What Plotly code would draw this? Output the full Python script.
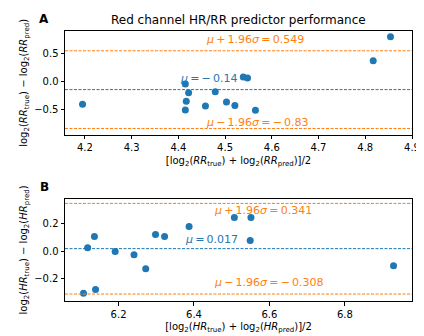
import plotly.graph_objects as go
from plotly.subplots import make_subplots

# RR panel (A)
rr_mean_axis = [4.195, 4.415, 4.422, 4.417, 4.415, 4.458, 4.479, 4.503, 4.521, 4.539, 4.548, 4.565, 4.817, 4.854]
rr_diff = [-0.40, -0.04, -0.196, -0.345, -0.50, -0.43, -0.18, -0.36, -0.42, 0.083, 0.066, -0.506, 0.37, 0.80]
rr_mu, rr_upper, rr_lower = -0.14, 0.549, -0.83

# HR panel (B)
hr_mean_axis = [6.107, 6.118, 6.136, 6.139, 6.191, 6.241, 6.272, 6.298, 6.322, 6.387, 6.507, 6.551, 6.549, 6.929]
hr_diff = [-0.303, 0.024, 0.104, -0.276, -0.004, -0.026, -0.127, 0.118, 0.104, 0.176, 0.24, 0.24, 0.075, -0.106]
hr_mu, hr_upper, hr_lower = 0.017, 0.341, -0.308

blue = '#1f77b4'
orange = '#ff7f0e'
font = 'DejaVu Sans'
sp = '\u2009'  # thin space, like mathtext spacing

fig = make_subplots(rows=2, cols=1, vertical_spacing=0.24)

fig.add_trace(go.Scatter(x=rr_mean_axis, y=rr_diff, mode='markers',
                         marker=dict(color=blue, size=7)), row=1, col=1)
fig.add_trace(go.Scatter(x=hr_mean_axis, y=hr_diff, mode='markers',
                         marker=dict(color=blue, size=7)), row=2, col=1)

# reference lines
for ax, val, col in [('y', rr_mu, blue), ('y', rr_upper, orange), ('y', rr_lower, orange),
                     ('y2', hr_mu, blue), ('y2', hr_upper, orange), ('y2', hr_lower, orange)]:
    xr = 'x domain' if ax == 'y' else 'x2 domain'
    fig.add_shape(type='line', xref=xr, yref=ax, x0=0, x1=1, y0=val, y1=val,
                  line=dict(color=col, width=1, dash='3px,1.5px'))

def note(text, x, y, col, xr, yr):
    fig.add_annotation(text=text, x=x, y=y, xref=xr, yref=yr, showarrow=False,
                       xanchor='left', yanchor='middle', font=dict(color=col, size=11, family=font))

def upper_txt(v):
    return f'<i>μ</i>{sp}+{sp}1.96<i>σ</i>{sp}={sp}{v}'

def lower_txt(v):
    return f'<i>μ</i>{sp}−{sp}1.96<i>σ</i>{sp}={sp}−{sp}{v}'

note(upper_txt('%.3f' % rr_upper), 4.455, 0.755, orange, 'x', 'y')
note(f'<i>μ</i>{sp}={sp}−{sp}%.2f' % abs(rr_mu), 4.40, 0.054, blue, 'x', 'y')
note(lower_txt('%.2f' % abs(rr_lower)), 4.455, -0.72, orange, 'x', 'y')
note(upper_txt('%.3f' % hr_upper), 6.449, 0.288, orange, 'x2', 'y2')
note(f'<i>μ</i>{sp}={sp}%.3f' % hr_mu, 6.37, 0.086, blue, 'x2', 'y2')
note(lower_txt('%.3f' % abs(hr_lower)), 6.449, -0.229, orange, 'x2', 'y2')

# title and panel letters
fig.add_annotation(text='Red channel HR/RR predictor performance', xref='paper', yref='paper',
                   x=0.5, y=1.0, yshift=2, xanchor='center', yanchor='bottom', showarrow=False,
                   font=dict(size=12, color='black', family=font))
fig.add_annotation(text='<b>A</b>', xref='paper', yref='paper', x=-0.06, y=1.0, yshift=3,
                   xanchor='center', yanchor='bottom', showarrow=False,
                   font=dict(size=12, color='black', family=font))
fig.add_annotation(text='<b>B</b>', xref='paper', yref='paper', x=-0.06, y=0.378, yshift=3,
                   xanchor='center', yanchor='bottom', showarrow=False,
                   font=dict(size=12, color='black', family=font))

axis_style = dict(showline=True, linecolor='black', linewidth=1, mirror=True, showgrid=False,
                  zeroline=False, ticks='outside', ticklen=3.5, tickcolor='black',
                  tickfont=dict(size=10, color='black', family=font))

fig.update_xaxes(**axis_style)
fig.update_yaxes(**axis_style)

fig.update_xaxes(range=[4.1575, 4.9], dtick=0.1, tickformat='.1f',
                 title=dict(text='[log<sub>2</sub>(<i>RR</i><sub>true</sub>) + log<sub>2</sub>(<i>RR</i><sub>pred</sub>)]/2',
                            font=dict(size=10, color='black', family=font), standoff=4),
                 row=1, col=1)
fig.update_yaxes(range=[-0.94, 0.90], dtick=0.5, tickformat='.1f',
                 title=dict(text='log<sub>2</sub>(<i>RR</i><sub>true</sub>) − log<sub>2</sub>(<i>RR</i><sub>pred</sub>)',
                            font=dict(size=10, color='black', family=font), standoff=4),
                 row=1, col=1)
fig.update_xaxes(range=[6.058, 6.978], dtick=0.2, tickformat='.1f',
                 title=dict(text='[log<sub>2</sub>(<i>HR</i><sub>true</sub>) + log<sub>2</sub>(<i>HR</i><sub>pred</sub>)]/2',
                            font=dict(size=10, color='black', family=font), standoff=4),
                 row=2, col=1)
fig.update_yaxes(range=[-0.358, 0.373], dtick=0.2, tickformat='.1f',
                 title=dict(text='log<sub>2</sub>(<i>HR</i><sub>true</sub>) − log<sub>2</sub>(<i>HR</i><sub>pred</sub>)',
                            font=dict(size=10, color='black', family=font), standoff=4),
                 row=2, col=1)

fig.update_layout(
    width=424, height=336,
    margin=dict(l=57, r=14, t=23, b=43),
    plot_bgcolor='white', paper_bgcolor='white',
    showlegend=False,
    font=dict(family=font, color='black'),
)
fig.layout.yaxis.domain = [0.616, 1.0]
fig.layout.yaxis2.domain = [0.0, 0.378]

fig.write_html('out.html')
